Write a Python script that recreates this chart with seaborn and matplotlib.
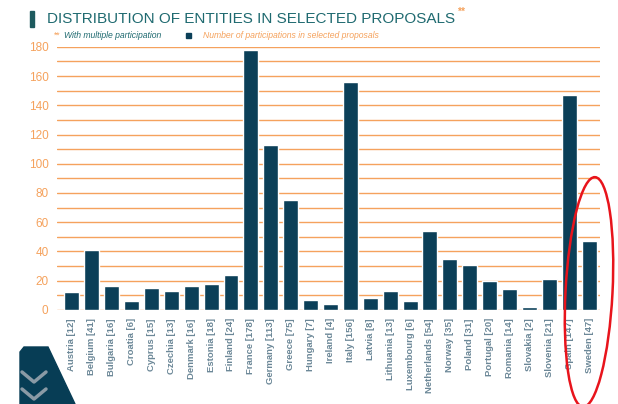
import matplotlib
matplotlib.use("Agg")
import matplotlib.pyplot as plt
import seaborn as sns
import pandas as pd
from matplotlib.patches import Ellipse, Polygon, Rectangle
from matplotlib.transforms import IdentityTransform

countries = ["Austria", "Belgium", "Bulgaria", "Croatia", "Cyprus", "Czechia", "Denmark",
             "Estonia", "Finland", "France", "Germany", "Greece", "Hungary", "Ireland",
             "Italy", "Latvia", "Lithuania", "Luxembourg", "Netherlands", "Norway",
             "Poland", "Portugal", "Romania", "Slovakia", "Slovenia", "Spain", "Sweden"]
values = [12, 41, 16, 6, 15, 13, 16, 18, 24, 178, 113, 75, 7, 4, 156, 8, 13, 6, 54, 35,
          31, 20, 14, 2, 21, 147, 47]
labels = [f"{c} [{v}]" for c, v in zip(countries, values)]

sns.set_theme(style="white")
plt.rcParams['font.family'] = ['Liberation Sans', 'DejaVu Sans']

NAVY = "#0b3f58"
ORANGE = "#f5a25d"
TEAL = "#1f6a70"
LABEL = "#6b8797"

df = pd.DataFrame({"label": labels, "value": values})

fig = plt.figure(figsize=(6.18, 4.04), dpi=100)
ax = fig.add_axes([0.092, 0.233, 0.879, 0.651])
for y in range(0, 181, 10):
    ax.axhline(y, color=ORANGE, lw=1.0, zorder=0)
sns.barplot(data=df, x="label", y="value", color=NAVY, width=0.75, saturation=1,
            ax=ax, zorder=2)
ax.set_ylim(0, 180)
ax.set_xlim(-0.75, 26.55)
ax.set_yticks(range(0, 181, 20))
ax.tick_params(axis='y', colors=ORANGE, labelsize=8.5, length=0, pad=6)
ax.tick_params(axis='x', length=0, pad=6)
ax.set_xticks(range(len(labels)))
ax.set_xticklabels(labels, rotation=90, fontsize=6.8, fontweight='bold', color=LABEL)
for lab in ax.get_yticklabels():
    lab.set_color(ORANGE)
ax.set_xlabel("")
ax.set_ylabel("")
for s in ax.spines.values():
    s.set_visible(False)
ax.patch.set_alpha(0)

# title
fig.patches.append(Rectangle((30 / 618, 1 - 27 / 404), 3.5 / 618, 16 / 404,
                             transform=fig.transFigure, color="#1d5a5e"))
t = fig.text(47 / 618, 1 - 19 / 404, "DISTRIBUTION OF ENTITIES IN SELECTED PROPOSALS",
             fontsize=11, color=TEAL, va='center', ha='left')
fig.canvas.draw()
bb = t.get_window_extent(renderer=fig.canvas.get_renderer())
fig.text((bb.x1 + 1.5) / 618, 1 - 12 / 404, "**", fontsize=7.5, color=ORANGE, va='center',
         ha='left', fontweight='bold')

# legend row
fig.text(54 / 618, 1 - 35 / 404, "**", fontsize=6.2, color=ORANGE, va='center')
fig.text(64 / 618, 1 - 35 / 404, "With multiple participation", fontsize=6.2,
         color=TEAL, style='italic', va='center')
fig.patches.append(Rectangle((186 / 618, 1 - 38 / 404), 5 / 618, 5 / 404,
                             transform=fig.transFigure, color=NAVY))
fig.text(203 / 618, 1 - 35 / 404, "Number of participations in selected proposals",
         fontsize=6.2, color=ORANGE, style='italic', va='center')

# decorative bottom-left shape
H = 404
pts = [(20, H - 404), (20, H - 352), (24, H - 347), (48, H - 347), (75, H - 404)]
fig.patches.append(Polygon(pts, closed=True, transform=IdentityTransform(),
                           color="#073d55", zorder=1))
for yy in (378, 395):
    fig.lines.append(plt.Line2D([22, 34, 46], [H - yy + 6, H - yy - 4, H - yy + 6],
                                transform=IdentityTransform(), color="#8a9aa5", lw=2.5))

# red ellipse annotation
fig.patches.append(Ellipse((589, H - 292), 47, 230, angle=-3, transform=IdentityTransform(),
                           fill=False, edgecolor="#e8141c", lw=1.8, zorder=5))

fig.savefig("out.png", dpi=100)
